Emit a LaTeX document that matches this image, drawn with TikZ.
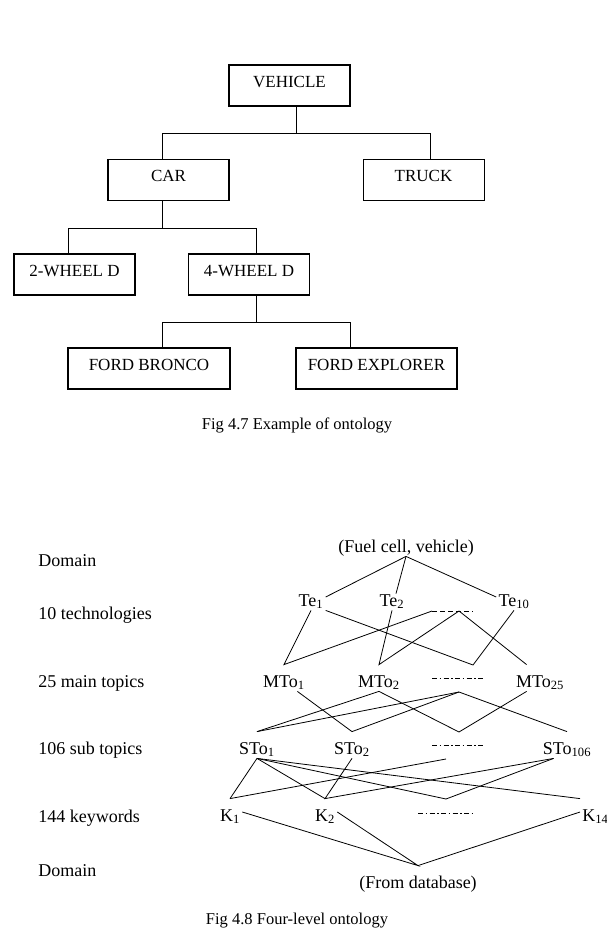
\documentclass[tikz,border=0pt]{standalone}
\usepackage{fontspec}
\setmainfont{Liberation Serif}
\usepackage{tikz}

\begin{document}
\begin{tikzpicture}[x=1pt, y=-1pt, line width=0.8pt,
  ontbox/.style={draw, line width=1.1pt, minimum width=121pt, minimum height=41pt,
    inner sep=0pt, text height=12pt, text depth=9pt, font=\fontsize{17}{20}\selectfont},
  lvl/.style={anchor=base, inner sep=2pt, text height=20pt, text depth=2pt,
    font=\fontsize{18}{21}\selectfont},
  side/.style={anchor=base west, inner sep=0pt, font=\fontsize{18}{21}\selectfont},
  capt/.style={anchor=base, inner sep=0pt, font=\fontsize{16.5}{20}\selectfont},
  dotline/.style={dash pattern=on 5pt off 2.5pt on 1.5pt off 2.5pt}]

\useasboundingbox (0,0) rectangle (606,938);

% Fig 4.7
\node[ontbox] (vehicle) at (289.5,85.5) {VEHICLE};
\node[ontbox] (car) at (168.5,180) {CAR};
\node[ontbox, line width=0.7pt] (truck) at (423.5,180) {TRUCK};
\node[ontbox] (twowd) at (74.5,274.5) {2-WHEEL D};
\node[ontbox] (fourwd) at (249,274.5) {4-WHEEL D};
\node[ontbox, minimum width=162pt] (bronco) at (149,368.5) {FORD BRONCO};
\node[ontbox, minimum width=161pt] (explorer) at (376.5,368.5) {FORD EXPLORER};

\draw ([xshift=6.5pt]vehicle.south) -- ++(0,27) coordinate (vjoin);
\draw ([xshift=-6.5pt]car.north) |- (vjoin) -| ([xshift=6.5pt]truck.north);
\draw ([xshift=-6.5pt]car.south) -- ++(0,27) coordinate (cjoin);
\draw ([xshift=-6.5pt]twowd.north) |- (cjoin) -| ([xshift=7pt]fourwd.north);
\draw ([xshift=7pt]fourwd.south) -- ++(0,27) coordinate (fjoin);
\draw ([xshift=13pt]bronco.north) |- (fjoin) -| ([xshift=-26.5pt]explorer.north);

\node[capt] (cap47) at (297,429) {Fig 4.7 Example of ontology};

% Fig 4.8
\node[side] (ldom) at (38,566) {Domain};
\node[side] (ltech) at (38,619) {10 technologies};
\node[side] (lmain) at (38,687) {25 main topics};
\node[side] (lsub) at (38,754) {106 sub topics};
\node[side] (lkey) at (38,822) {144 keywords};
\node[side] (ldb) at (38,876) {Domain};

\node[lvl] (root) at (406,552) {(Fuel cell, vehicle)};
\node[lvl] (te1) at (311,606) {Te\textsubscript{1}};
\node[lvl] (te2) at (392,606) {Te\textsubscript{2}};
\node[lvl] (te10) at (514,606) {Te\textsubscript{10}};
\node[lvl] (mto1) at (284,687) {MTo\textsubscript{1}};
\node[lvl] (mto2) at (379,687) {MTo\textsubscript{2}};
\node[lvl] (mto25) at (540,687) {MTo\textsubscript{25}};
\node[lvl] (sto1) at (257,754) {STo\textsubscript{1}};
\node[lvl] (sto2) at (352,754) {STo\textsubscript{2}};
\node[lvl] (sto106) at (567,754) {STo\textsubscript{106}};
\node[lvl] (k1) at (230,821) {K\textsubscript{1}};
\node[lvl] (k2) at (325,821) {K\textsubscript{2}};
\node[lvl, anchor=base west] (k144) at (580,821) {K\textsubscript{144}};
\node[lvl] (db) at (418,888) {(From database)};

\coordinate (tel) at (432,611);
\coordinate (tep) at (459,611);
\coordinate (ter) at (473,611);
\coordinate (mdl) at (432,678);
\coordinate (mdr) at (485,678);
\coordinate (mtv) at (473,665);
\coordinate (mpk) at (459,692);
\coordinate (mvb) at (459,732);
\coordinate (sdl) at (432,745);
\coordinate (sdr) at (485,745);
\coordinate (sdp) at (446,759);
\coordinate (kdl) at (418,813);
\coordinate (kdr) at (472,813);
\coordinate (kvb) at (446,799);

\draw (root.south) -- (te1.east);
\draw (root.south) -- ([xshift=4pt,yshift=-10pt]te2.north);
\draw (root.south) -- (te10.west);

\draw[style=dashed, dash pattern=on 5pt off 3pt] (tel) -- (ter);
\draw (te1.south) -- (mto1.north) -- (tel);
\draw (te1.south east) -- (mtv) -- (te10.south);
\draw (te2.south) -- (mto2.north) -- (tep) -- (mto25.135);

\draw[dotline] (mdl) -- (mdr);
\draw (mto1.-45) -- (sto2.north) -- (mpk);
\draw (sto1.north) -- (mto2.south) -- (mvb) -- (mto25.-135);
\draw (sto1.north) -- (mpk) -- (sto106.north);

\draw[dotline] (sdl) -- (sdr);
\draw (k1.north) -- (sto1.south) -- (k2.north);
\draw (sto1.south) -- (kvb) -- (sto106.-135);
\draw (sto1.south) -- (k144.north west);
\draw (sto2.south) -- (k2.north) -- (sto106.-135);
\draw (k1.north) -- (sdp);

\draw[dotline] (kdl) -- (kdr);
\draw (k1.east) -- (db.north) -- (k2.east);
\draw (db.north) -- (k144.west);

\node[capt] (cap48) at (297,924) {Fig 4.8 Four-level ontology};

\end{tikzpicture}
\end{document}
